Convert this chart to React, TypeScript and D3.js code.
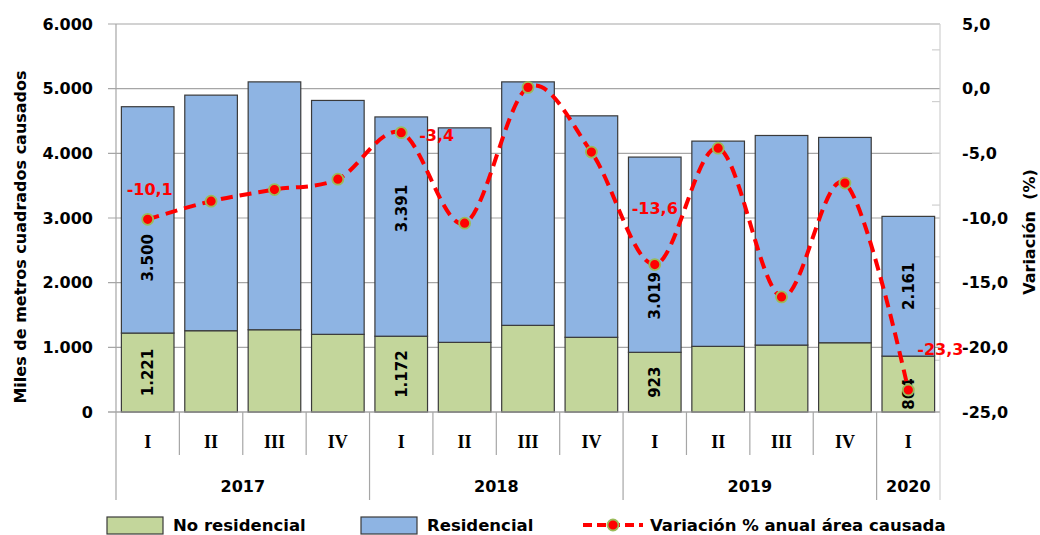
import React from 'react';
import * as d3 from 'd3';

// quarters / years on the category axis
const quarters = ['I', 'II', 'III', 'IV', 'I', 'II', 'III', 'IV', 'I', 'II', 'III', 'IV', 'I'];
const years = ['2017', '2018', '2019', '2020'];
const quartersPerYear = [4, 4, 4, 1];

// miles de m2 causados
const noResidencial = [1221, 1257, 1272, 1201, 1172, 1077, 1340, 1155, 923, 1015, 1035, 1071, 864];
const residencial = [3500, 3643, 3833, 3617, 3391, 3317, 3765, 3425, 3019, 3174, 3241, 3175, 2161];
// variacion % anual area causada
const variacion = [-10.1, -8.7, -7.8, -7.0, -3.4, -10.4, 0.1, -4.9, -13.6, -4.6, -16.1, -7.3, -23.3];

// which bars / points get a data label
const labeledBars = [0, 4, 8, 12];
const labeledPoints = [0, 4, 8, 12];

const leftTicks = [0, 1000, 2000, 3000, 4000, 5000, 6000];
const rightTicks = [5, 0, -5, -10, -15, -20, -25];

const locale = d3.formatLocale({
  decimal: ',',
  thousands: '.',
  grouping: [3],
  currency: ['', ''],
  minus: '-',
});
const fmtInt = locale.format(',d');
const fmtPct = locale.format('.1f');

const SANS = '"DejaVu Sans", Verdana, sans-serif';
const SERIF = '"Liberation Serif", "Times New Roman", serif';
const BLUE = '#8EB4E3';
const GREEN = '#C3D69B';
const RED = '#FF0000';
const GRID = '#A6A6A6';

export default function App() {
  const width = 1040;
  const height = 535;
  const left = 116;
  const right = 940;
  const top = 24;
  const bottom = 412;

  const idx = d3.range(quarters.length);
  const x = d3
    .scaleBand<number>()
    .domain(idx)
    .range([left, right])
    .paddingInner(0.17)
    .paddingOuter(0.085);
  const step = x.step();
  const bx = (i: number) => left + i * step; // category boundary

  const y = d3.scaleLinear().domain([0, 6000]).range([bottom, top]);
  const y2 = d3.scaleLinear().domain([-25, 5]).range([bottom, top]);

  const line = d3
    .line<number>()
    .x((d, i) => (x(i) as number) + x.bandwidth() / 2)
    .y(d => y2(d))
    .curve(d3.curveCatmullRom.alpha(0));

  // offsets for the variation labels (relative to their point)
  const pctOffset: Record<number, [number, number, string]> = {
    0: [2, -30, 'middle'],
    4: [18, 3, 'start'],
    8: [0, -56, 'middle'],
    12: [9, -41, 'start'],
  };
  // residential labels were nudged off the line in the original
  const resShift: Record<number, number> = { 0: 38, 4: -18, 8: 41, 12: 0 };
  const noResShift: Record<number, number> = { 0: 0, 4: 0, 8: 0, 12: 10 };

  // year group boundaries
  const yearStarts: number[] = [];
  let acc = 0;
  quartersPerYear.forEach(n => {
    yearStarts.push(acc);
    acc += n;
  });

  return (
    <div style={{ position: 'absolute', left: 0, top: 0 }}>
      <svg width={width} height={height} style={{ display: 'block', background: '#fff' }}>
        {/* gridlines */}
        {leftTicks.map(t => (
          <line key={'g' + t} x1={left - 8} x2={right} y1={y(t)} y2={y(t)} stroke={GRID} strokeWidth={1.2} />
        ))}
        {/* left axis line */}
        <line x1={left} x2={left} y1={top} y2={500} stroke={GRID} strokeWidth={1.2} />
        {/* right axis line + ticks */}
        <line x1={right} x2={right} y1={top} y2={500} stroke="#D0D0D0" strokeWidth={1.2} />
        {d3.range(-25, 5, 4).map(t => (
          <line key={'rt' + t} x1={right - 8} x2={right} y1={y2(t)} y2={y2(t)} stroke="#D0D0D0" strokeWidth={1.2} />
        ))}

        {/* category separators */}
        {d3.range(1, quarters.length).map(i => (
          <line
            key={'sep' + i}
            x1={bx(i)}
            x2={bx(i)}
            y1={bottom}
            y2={yearStarts.includes(i) ? 500 : 455}
            stroke={GRID}
            strokeWidth={1.2}
          />
        ))}

        {/* stacked bars */}
        {idx.map(i => (
          <g key={'b' + i}>
            <rect
              x={x(i)}
              y={y(noResidencial[i])}
              width={x.bandwidth()}
              height={y(0) - y(noResidencial[i])}
              fill={GREEN}
              stroke="#3A3A3A"
              strokeWidth={1.2}
            />
            <rect
              x={x(i)}
              y={y(noResidencial[i] + residencial[i])}
              width={x.bandwidth()}
              height={y(noResidencial[i]) - y(noResidencial[i] + residencial[i])}
              fill={BLUE}
              stroke="#3A3A3A"
              strokeWidth={1.2}
            />
          </g>
        ))}

        {/* bottom axis line */}
        <line x1={left - 8} x2={right} y1={bottom} y2={bottom} stroke={GRID} strokeWidth={1.2} />

        {/* bar value labels */}
        {labeledBars.map(i => {
          const cx = (x(i) as number) + x.bandwidth() / 2;
          const segs = [
            { v: noResidencial[i], cy: (y(0) + y(noResidencial[i])) / 2 + noResShift[i] },
            {
              v: residencial[i],
              cy: (y(noResidencial[i]) + y(noResidencial[i] + residencial[i])) / 2 + resShift[i],
            },
          ];
          return segs.map((s, k) => (
            <text
              key={'bl' + i + k}
              transform={`translate(${cx},${s.cy}) rotate(-90)`}
              textAnchor="middle"
              dy="0.36em"
              fontFamily={SANS}
              fontWeight="bold"
              fontSize={15}
              fill="#000"
            >
              {fmtInt(s.v)}
            </text>
          ));
        })}

        {/* variation line */}
        <path d={line(variacion) || ''} fill="none" stroke={RED} strokeWidth={4} strokeDasharray="12,7" />
        {variacion.map((v, i) => (
          <circle
            key={'p' + i}
            cx={(x(i) as number) + x.bandwidth() / 2}
            cy={y2(v)}
            r={5.5}
            fill={RED}
            stroke="#9BBB59"
            strokeWidth={1.8}
          />
        ))}
        {labeledPoints.map(i => {
          const [dx, dy, anchor] = pctOffset[i];
          return (
            <text
              key={'pl' + i}
              x={(x(i) as number) + x.bandwidth() / 2 + dx}
              y={y2(variacion[i]) + dy}
              dy="0.36em"
              textAnchor={anchor}
              fontFamily={SANS}
              fontWeight="bold"
              fontSize={16}
              fill={RED}
            >
              {fmtPct(variacion[i])}
            </text>
          );
        })}

        {/* left tick labels */}
        {leftTicks.map(t => (
          <text
            key={'lt' + t}
            x={93}
            y={y(t)}
            dy="0.36em"
            textAnchor="end"
            fontFamily={SANS}
            fontWeight="bold"
            fontSize={16}
          >
            {fmtInt(t)}
          </text>
        ))}
        {/* right tick labels */}
        {rightTicks.map(t => (
          <text
            key={'rl' + t}
            x={962}
            y={y2(t)}
            dy="0.36em"
            textAnchor="start"
            fontFamily={SANS}
            fontWeight="bold"
            fontSize={16}
          >
            {fmtPct(t)}
          </text>
        ))}

        {/* quarter labels */}
        {idx.map(i => (
          <text
            key={'q' + i}
            x={bx(i) + step / 2}
            y={442}
            dy="0.36em"
            textAnchor="middle"
            fontFamily={SERIF}
            fontWeight="bold"
            fontSize={18}
          >
            {quarters[i]}
          </text>
        ))}
        {/* year labels */}
        {years.map((yr, k) => (
          <text
            key={'y' + yr}
            x={bx(yearStarts[k]) + (quartersPerYear[k] * step) / 2}
            y={486}
            dy="0.36em"
            textAnchor="middle"
            fontFamily={SANS}
            fontWeight="bold"
            fontSize={16}
          >
            {yr}
          </text>
        ))}

        {/* axis titles */}
        <text
          transform="translate(20,237) rotate(-90)"
          textAnchor="middle"
          dy="0.36em"
          fontFamily={SANS}
          fontWeight="bold"
          fontSize={16}
        >
          Miles de metros cuadrados causados
        </text>
        <text
          transform="translate(1029,232) rotate(-90)"
          textAnchor="middle"
          dy="0.36em"
          fontFamily={SANS}
          fontWeight="bold"
          fontSize={16}
          style={{ whiteSpace: 'pre' }}
        >
          {'Variación  (%)'}
        </text>

        {/* legend */}
        <rect x={107} y={517} width={56} height={17} fill={GREEN} stroke="#3A3A3A" strokeWidth={1.2} />
        <text x={173} y={525} dy="0.36em" fontFamily={SANS} fontWeight="bold" fontSize={16.5}>
          No residencial
        </text>
        <rect x={361} y={517} width={56} height={17} fill={BLUE} stroke="#3A3A3A" strokeWidth={1.2} />
        <text x={427} y={525} dy="0.36em" fontFamily={SANS} fontWeight="bold" fontSize={16.5}>
          Residencial
        </text>
        <line x1={583} x2={643} y1={525} y2={525} stroke={RED} strokeWidth={4} strokeDasharray="9,5" />
        <circle cx={613} cy={525} r={5.5} fill={RED} stroke="#9BBB59" strokeWidth={1.8} />
        <text x={650} y={525} dy="0.36em" fontFamily={SANS} fontWeight="bold" fontSize={16.5}>
          Variación % anual área causada
        </text>
      </svg>
    </div>
  );
}
